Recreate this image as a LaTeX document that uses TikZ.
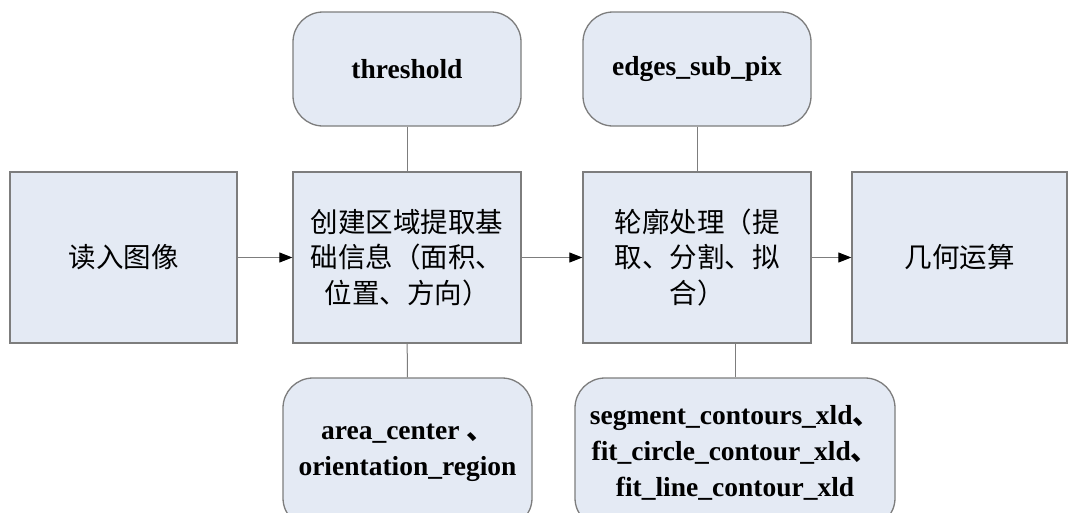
\documentclass[tikz,border=0pt]{standalone}
\usepackage{fontspec}
\setmainfont{Liberation Serif}
\newfontfamily\cjk{Noto Sans CJK SC}
\usepackage{tikz}
\usetikzlibrary{arrows.meta}

\definecolor{boxfill}{RGB}{228,234,244}
\definecolor{boxline}{RGB}{125,125,125}

\tikzset{
    stepbox/.style={draw=boxline, line width=1.3pt, fill=boxfill, inner sep=0pt,
        align=center, font=\cjk\fontsize{27.5}{35.5}\selectfont},
    funcbox/.style={stepbox, rounded corners=30pt,
        font=\bfseries\fontsize{27.5}{36}\selectfont},
    flow/.style={draw=boxline, line width=1pt, -{Triangle[length=13pt,width=10pt,color=black]}},
    link/.style={draw=boxline, line width=1pt}
}

\begin{document}
\begin{tikzpicture}[x=1pt,y=-1pt]
            \clip (0,0) rectangle (1068,512);
            \fill [white] (0,0) rectangle (1068,512);
            % main row
            \node [stepbox, minimum width=227pt, minimum height=171pt] (read) at (123.5,257.5) {读入图像};
            \node [stepbox, minimum width=228pt, minimum height=171pt] (region) at (407,257.5) {创建区域提取基\\础信息（面积、\\位置、方向）};
            \node [stepbox, minimum width=228pt, minimum height=171pt] (contour) at (697,257.5) {轮廓处理（提\\取、分割、拟\\合）};
            \node [stepbox, minimum width=215pt, minimum height=171pt] (geom) at (959.5,257.5) {几何运算};
            % operators
            \node [funcbox, minimum width=228pt, minimum height=114pt] (thresh) at (407,69) {threshold};
            \node [funcbox, minimum width=228pt, minimum height=114pt] (edges) at (697,69) {edges\_sub\_pix};
            \node [funcbox, minimum width=249pt, minimum height=150pt] (area) at (407.5,453) {area\_center {\cjk 、}\\orientation\_region};
            \node [funcbox, minimum width=320pt, minimum height=150pt] (fit) at (735,453) {segment\_contours\_xld{\cjk 、}\\fit\_circle\_contour\_xld{\cjk 、}\\fit\_line\_contour\_xld};
            % connectors
            \draw [flow] (read) -- (region);
            \draw [flow] (region) -- (contour);
            \draw [flow] (contour) -- (geom);
            \draw [link] (thresh) -- (region);
            \draw [link] (region) -- (area);
            \draw [link] (edges) -- (contour);
            \draw [link] (fit.north) -- (fit.north |- contour.south);
        \end{tikzpicture}
\end{document}
